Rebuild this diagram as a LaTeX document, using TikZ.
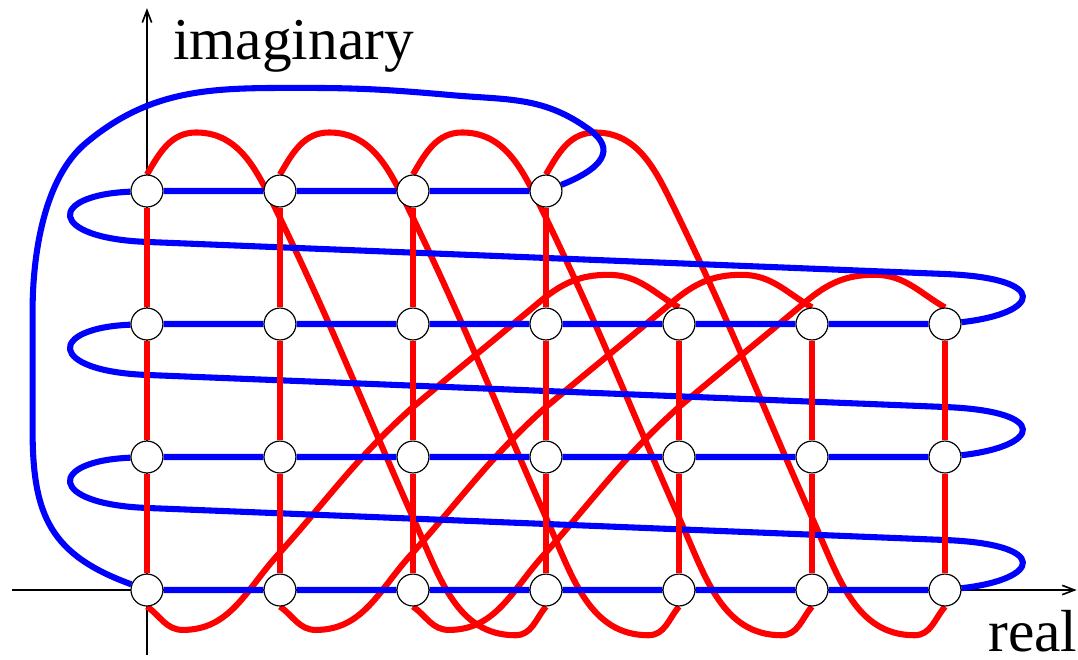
\documentclass[tikz,border=0pt]{standalone}
\usepackage{fontspec}
\setmainfont{Liberation Serif}
\usetikzlibrary{arrows.meta}
\pgfdeclarelayer{background}
\pgfsetlayers{background,main}

\begin{document}
\begin{tikzpicture}[
    pt/.style={draw, circle, fill=white, line width=0.25pt,
               minimum size=0.24cm, inner sep=0pt},
    rline/.style={red, line width=1.3pt},
    bline/.style={blue, line width=1.3pt},
    axis/.style={line width=0.35pt, -{Straight Barb[length=2.6pt,width=2pt]}},
    lbl/.style={font=\fontsize{12.7}{15}\selectfont, inner sep=0pt,
                anchor=base west}
  ]
  \useasboundingbox (-1.105,-0.526) rectangle (7.0,4.436);

  \node[pt] (p00) at (0, 0) {};
  \node[pt] (p10) at (1, 0) {};
  \node[pt] (p20) at (2, 0) {};
  \node[pt] (p30) at (3, 0) {};
  \node[pt] (p40) at (4, 0) {};
  \node[pt] (p50) at (5, 0) {};
  \node[pt] (p60) at (6, 0) {};
  \node[pt] (p01) at (0, 1) {};
  \node[pt] (p11) at (1, 1) {};
  \node[pt] (p21) at (2, 1) {};
  \node[pt] (p31) at (3, 1) {};
  \node[pt] (p41) at (4, 1) {};
  \node[pt] (p51) at (5, 1) {};
  \node[pt] (p61) at (6, 1) {};
  \node[pt] (p02) at (0, 2) {};
  \node[pt] (p12) at (1, 2) {};
  \node[pt] (p22) at (2, 2) {};
  \node[pt] (p32) at (3, 2) {};
  \node[pt] (p42) at (4, 2) {};
  \node[pt] (p52) at (5, 2) {};
  \node[pt] (p62) at (6, 2) {};
  \node[pt] (p03) at (0, 3) {};
  \node[pt] (p13) at (1, 3) {};
  \node[pt] (p23) at (2, 3) {};
  \node[pt] (p33) at (3, 3) {};

  \node[lbl] (imlabel) at (0.19, 3.99) {imaginary};
  \node[lbl] (relabel) at (6.32, -0.465) {real};

  \coordinate (xs) at (-1.015, 0);
  \coordinate (xe) at (6.99, 0);
  \coordinate (ys) at (0, -0.49);
  \coordinate (ye) at (0, 4.375);

  \begin{pgfonlayer}{background}
    \draw[axis] (xs) -- (xe);
    \draw[axis] (ys) -- (ye);

    \draw[rline] (p03.north) to[out=60,in=180] (0.37,3.44) to[out=0,in=116] (0.96,2.88)
      to[out=-64,in=114] (2.02,0.5) to[out=-66,in=180] (2.77,-0.34)
      to[out=0,in=-130] (p30.south);
    \draw[rline] (p13.north) to[out=60,in=180] (1.37,3.44) to[out=0,in=116] (1.96,2.88)
      to[out=-64,in=114] (3.02,0.5) to[out=-66,in=180] (3.77,-0.34)
      to[out=0,in=-130] (p40.south);
    \draw[rline] (p23.north) to[out=60,in=180] (2.37,3.44) to[out=0,in=116] (2.96,2.88)
      to[out=-64,in=114] (4.02,0.5) to[out=-66,in=180] (4.77,-0.34)
      to[out=0,in=-130] (p50.south);
    \draw[rline] (p33.north) to[out=60,in=180] (3.37,3.44) to[out=0,in=116] (3.96,2.88)
      to[out=-64,in=114] (5.02,0.5) to[out=-66,in=180] (5.77,-0.34)
      to[out=0,in=-130] (p60.south);

    \draw[rline] (p00.south) to[out=-35,in=180] (0.27,-0.3) to[out=0,in=228] (0.98,0.26)
      to[out=48,in=222] (2.0,1.376) to[out=40,in=220] (2.95,2.165)
      to[out=40,in=180] (3.47,2.37) to[out=0,in=150] (p42.north);
    \draw[rline] (p10.south) to[out=-35,in=180] (1.27,-0.3) to[out=0,in=228] (1.98,0.26)
      to[out=48,in=222] (3.0,1.376) to[out=40,in=220] (3.95,2.165)
      to[out=40,in=180] (4.47,2.37) to[out=0,in=150] (p52.north);
    \draw[rline] (p20.south) to[out=-35,in=180] (2.27,-0.3) to[out=0,in=228] (2.98,0.26)
      to[out=48,in=222] (4.0,1.376) to[out=40,in=220] (4.95,2.165)
      to[out=40,in=180] (5.47,2.37) to[out=0,in=150] (p62.north);

    \draw[bline] (p00) -- (p10) -- (p20) -- (p30) -- (p40) -- (p50) -- (p60)
      .. controls (6.72,0.08) and (6.8,0.345) .. (6.0,0.376) -- (0,0.617)
      .. controls (-0.75,0.646) and (-0.75,0.97) .. (p01)
      -- (p11) -- (p21) -- (p31) -- (p41) -- (p51) -- (p61)
      .. controls (6.72,1.08) and (6.8,1.345) .. (6.0,1.376) -- (0,1.617)
      .. controls (-0.75,1.646) and (-0.75,1.97) .. (p02)
      -- (p12) -- (p22) -- (p32) -- (p42) -- (p52) -- (p62)
      .. controls (6.72,2.08) and (6.8,2.345) .. (6.0,2.376) -- (0,2.617)
      .. controls (-0.75,2.646) and (-0.75,2.97) .. (p03)
      -- (p13) -- (p23) -- (p33)
      .. controls (3.5,3.2) and (3.5,3.35) .. (3.3,3.48)
      to[out=145,in=-5] (2.3,3.72) to[out=175,in=0] (1.2,3.775)
      to[out=180,in=40] (-0.46,3.36) to[out=220,in=90,looseness=0.8] (-0.86,2.1)
      -- (-0.86,1.2) to[out=-90,in=160,looseness=1.2] (p00);

    \draw[rline] (p00) -- (p01) -- (p02) -- (p03);
    \draw[rline] (p10) -- (p11) -- (p12) -- (p13);
    \draw[rline] (p20) -- (p21) -- (p22) -- (p23);
    \draw[rline] (p30) -- (p31) -- (p32) -- (p33);
    \draw[rline] (p40) -- (p41) -- (p42);
    \draw[rline] (p50) -- (p51) -- (p52);
    \draw[rline] (p60) -- (p61) -- (p62);
  \end{pgfonlayer}
\end{tikzpicture}
\end{document}
